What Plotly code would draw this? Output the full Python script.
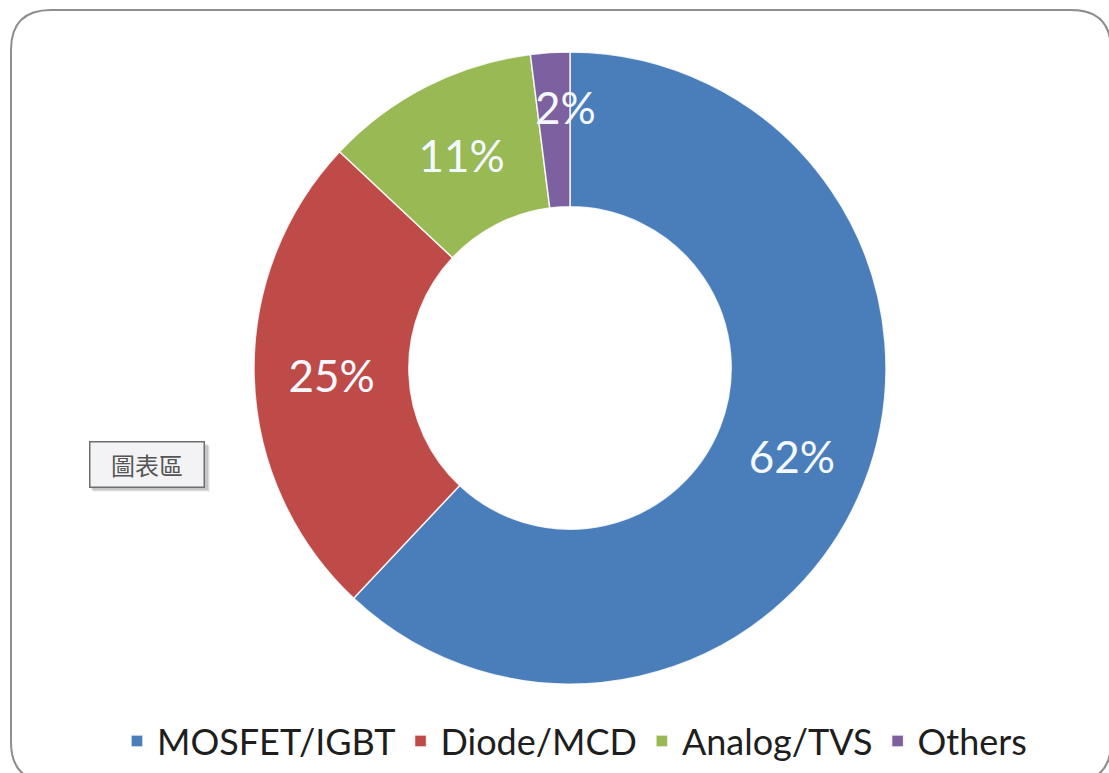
import math
import plotly.graph_objects as go

categories = ["MOSFET/IGBT", "Diode/MCD", "Analog/TVS", "Others"]
shares = [62, 25, 11, 2]
slice_colors = ["#4A7EBB", "#BE4B48", "#98B954", "#7D60A0"]
callout_text = "圖表區"

W, H = 1109, 773

def px_x(v):
    return v / W

def px_y(v):
    return 1 - v / H

# donut geometry (pixels)
cx0, cx1, cy0, cy1 = 254, 886, 52, 684
hole = 0.51
small_share_limit = 5  # slices narrower than this get a separately positioned label

texts = ["" if s < small_share_limit else f"{s}%" for s in shares]

fig = go.Figure()
fig.add_trace(go.Pie(
    labels=categories,
    values=shares,
    sort=False,
    direction="clockwise",
    rotation=0,
    hole=hole,
    marker=dict(colors=slice_colors, line=dict(color="rgba(255,255,255,0.85)", width=1.5)),
    text=texts,
    textinfo="text",
    textposition="inside",
    insidetextorientation="horizontal",
    textfont=dict(family="Lato", size=44, color="#F4F8FF"),
    hoverinfo="label+percent",
    domain=dict(x=[px_x(cx0), px_x(cx1)], y=[px_y(cy1), px_y(cy0)]),
))

# labels for very thin slices, placed at the slice's mid-angle (computed from data)
total = sum(shares)
cx, cy = (cx0 + cx1) / 2, (cy0 + cy1) / 2
R = (cx1 - cx0) / 2
cum = 0
for s in shares:
    mid = (cum + s / 2) / total * 2 * math.pi
    cum += s
    if s < small_share_limit:
        rr = R * 0.82
        fig.add_annotation(
            text=f"{s}%", xref="paper", yref="paper",
            x=px_x(cx + rr * math.sin(mid) + 12), y=px_y(cy - rr * math.cos(mid) - 2),
            xanchor="center", yanchor="middle", showarrow=False,
            font=dict(family="Lato", size=44, color="#F4F8FF"),
        )

# rounded chart-area frame
x0, x1, y0, y1, r = 11, 1111, 10, 782, 40
path = (
    f"M {px_x(x0 + r)} {px_y(y0)} L {px_x(x1 - r)} {px_y(y0)} "
    f"Q {px_x(x1)} {px_y(y0)} {px_x(x1)} {px_y(y0 + r)} "
    f"L {px_x(x1)} {px_y(y1 - r)} Q {px_x(x1)} {px_y(y1)} {px_x(x1 - r)} {px_y(y1)} "
    f"L {px_x(x0 + r)} {px_y(y1)} Q {px_x(x0)} {px_y(y1)} {px_x(x0)} {px_y(y1 - r)} "
    f"L {px_x(x0)} {px_y(y0 + r)} Q {px_x(x0)} {px_y(y0)} {px_x(x0 + r)} {px_y(y0)} Z"
)
fig.add_shape(type="path", path=path, xref="paper", yref="paper",
              line=dict(color="#8E8E8E", width=2), fillcolor="rgba(0,0,0,0)", layer="below")

# callout box soft shadow + label
for off, alpha in [(5, 0.06), (4, 0.08), (3, 0.10)]:
    fig.add_shape(type="rect", xref="paper", yref="paper",
                  x0=px_x(88 + off), x1=px_x(205 + off), y0=px_y(487 + off), y1=px_y(441 + off),
                  line=dict(width=0), fillcolor=f"rgba(0,0,0,{alpha})", layer="above")
fig.add_annotation(
    text=callout_text, xref="paper", yref="paper",
    x=px_x(146.5), y=px_y(464), xanchor="center", yanchor="middle", showarrow=False,
    font=dict(family="Noto Sans CJK TC", size=24, color="#555555"),
    width=99, height=30,
    bgcolor="#F3F3F5", bordercolor="#6E6E6E", borderwidth=1.5, borderpad=7,
)

fig.update_layout(
    width=W, height=H,
    margin=dict(l=0, r=0, t=0, b=0),
    paper_bgcolor="white",
    plot_bgcolor="white",
    showlegend=True,
    legend=dict(
        orientation="h", x=0.518, xanchor="center", y=px_y(741), yanchor="middle",
        font=dict(family="Lato", size=36, color="#1E1E1E"),
        itemwidth=30, bgcolor="rgba(0,0,0,0)",
    ),
)

fig.write_html(
    "out.html",
    config={"displayModeBar": False},
    post_script="document.body.style.margin='0';document.body.style.overflow='hidden';",
)
